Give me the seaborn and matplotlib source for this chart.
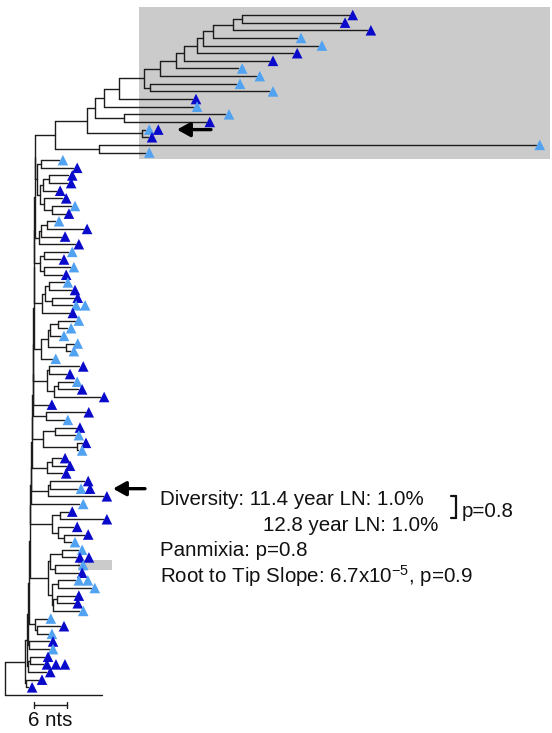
import numpy as np
import pandas as pd
import matplotlib
matplotlib.use("Agg")
import matplotlib.pyplot as plt
from matplotlib.patches import Rectangle
import seaborn as sns

# ---------------- data ----------------
# Tree clades in a Newick-like notation where the number after ':' is the
# node's distance from the root in nucleotides (nts).
# Tip codes: one letter per sampled sequence, L = 11.4 year LN (light), D = 12.8 year LN (dark)
# '*' marks the highlighted sequence, N = outgroup (no marker)
clade_top = ("((((((((((((((D:62.5,D:61.1):43.1,D:65.8):41.5,L:53.1):37.8,L:56.9):36.0,"
             "D:52.4):34.9,D:48.0):32.5,L:42.4):31.1,L:45.6):28.2,(L:42.0,L:48.0):26.4):25.3,"
             "D:34.0):20.7,L:34.2):18.0,(L:40.0,D:36.5):21.6):16.4,(LD:25.5,D:26.0):24.9):14.9,"
             "(L:96.5,L:25.5):17.1):9.1")
clade_ab = "((L:9.8,D:12.4):6.5,(((D:11.5,D:11.3):8.0,D:9.3):6.9,(D:10.4,(L:12.0,D:10.9):8.5):7.1):6.4):5.8"
clade_c = "(((L:9.1,D:14.2):7.6,D:10.2):6.5,D:12.7):6.2"
clade_d = "((L:11.5,D:10.0):7.1,(L:11.8,D:10.4):7.1):6.4"
clade_e = "(((L:10.7,D:12.0):8.0,(D:12.5,LL:12.2):8.5):7.3,D:11.6):6.7"
clade_f = "((((L:12.7,L:11.3):9.6,L:10.0):8.2,(L:12.5,L:11.8):11.1):7.8,L:8.5):6.5"
clade_g = "((D:13.5,D:11.1):8.0,((L:12.4,D:13.3):9.6,D:17.3):8.9):7.6"
clade_h = "D:7.8"
clade_i = "(D:14.5,L:10.7):7.5"
clade_j = "((D:12.9,L:12.7):9.1,(D:14.0,L:13.3):13.1):6.9"
clade_k = "((D:10.2,D:11.1):8.5,D:10.4):7.6"
clade_l = "((D:14.4,LD:13.1):8.2,D:17.8):7.8"
clade_m = "L:13.5"
clade_n = "((D:11.5,D:17.8):10.0,(D:12.4,(D:14.4,L:12.0):10.7):9.6):8.5"
clade_op = ("(((L:13.3,DD:12.9):10.4,(L*:13.5,D:13.3):9.1):8.2,((LL:12.7,L:15.6):9.6,"
            "((D:12.7,D:12.5):9.5,L:13.5):8.7):8.5):7.8")
clade_q = "(L:7.6,(D:10.0,L:7.8):5.8):5.5"
clade_r1 = "(D:8.0,L:8.0):4.4"
clade_r2 = "((D:7.1,DDD:6.9):4.5,D:7.5):4.2"
clade_r3 = "(D:6.0,D:4.2):3.8"

backbone_clades = [clade_top, clade_ab, clade_c, clade_d, clade_e, clade_f, clade_g,
                   clade_h, clade_i, clade_j, clade_k, clade_l, clade_m, clade_n,
                   clade_op, clade_q, clade_r1, clade_r2, clade_r3]
backbone_depths = [5.5, 5.4, 5.3, 5.3, 5.2, 5.1, 5.1, 5.0, 4.9, 4.9, 4.8, 4.7,
                   4.6, 4.5, 4.4, 4.2, 4.0, 3.6]
outgroup_depth = 17.6
scale_bar_nts = 6

stats_lines = ["Diversity: 11.4 year LN: 1.0%", "12.8 year LN: 1.0%",
               "Panmixia: p=0.8", "Root to Tip Slope: 6.7x10$^{-5}$, p=0.9"]
diversity_p = "p=0.8"

group_names = {"L": "11.4 year LN", "D": "12.8 year LN"}
palette = {"11.4 year LN": "#52a2f2", "12.8 year LN": "#0a0acb"}


# ---------------- tree handling ----------------
def parse(s):
    pos = 0

    def node():
        nonlocal pos
        if s[pos] == "(":
            pos += 1
            children = [node()]
            while s[pos] == ",":
                pos += 1
                children.append(node())
            assert s[pos] == ")"
            pos += 1
            label = None
        else:
            start = pos
            while s[pos] != ":":
                pos += 1
            label = s[start:pos]
            children = []
        assert s[pos] == ":"
        pos += 1
        start = pos
        while pos < len(s) and s[pos] not in ",)":
            pos += 1
        return {"label": label, "depth": float(s[start:pos]), "children": children}

    out = node()
    assert pos == len(s)
    return out


cur = parse(backbone_clades[0])
for cl, d in zip(backbone_clades[1:], backbone_depths):
    cur = {"label": None, "depth": d, "children": [cur, parse(cl)]}
root = {"label": None, "depth": 0.0,
        "children": [cur, {"label": "N", "depth": outgroup_depth, "children": []}]}

tips = []


def layout(n, pdepth):
    n["pdepth"] = pdepth
    if not n["children"]:
        n["y"] = float(len(tips))
        tips.append(n)
    else:
        for c in n["children"]:
            layout(c, n["depth"])
        n["y"] = (n["children"][0]["y"] + n["children"][-1]["y"]) / 2


layout(root, None)

segs = []


def collect(n):
    if n["pdepth"] is not None:
        segs.append((n["pdepth"], n["depth"], n["y"], n["y"]))
    if n["children"]:
        segs.append((n["depth"], n["depth"], n["children"][0]["y"], n["children"][-1]["y"]))
        for c in n["children"]:
            collect(c)


collect(root)
rows = []
for i, (x0, x1, y0, y1) in enumerate(segs):
    rows.append({"seg": i, "x": x0, "y": y0})
    rows.append({"seg": i, "x": x1, "y": y1})
seg_df = pd.DataFrame(rows)

# ---------------- figure ----------------
W, H = 552, 733
sns.set_theme(style="white")
plt.rcParams["font.family"] = ["Liberation Sans", "DejaVu Sans"]
plt.rcParams["mathtext.default"] = "regular"

fig = plt.figure(figsize=(W / 100, H / 100), dpi=100)
ax = fig.add_axes([0, 0, 1, 1])
PX_X = 5.5     # pixels per nt
PX_Y = 7.64    # pixels per tip
ax.set_xlim(-5 / PX_X, (W - 5) / PX_X)
ax.set_ylim((H - 15) / PX_Y, -15 / PX_Y)
ax.axis("off")

# highlight box of the upper clade
n_top = 19
ax.add_patch(Rectangle((24.4, -1.05), 99.1 - 24.4, n_top - 1 + 1.9,
                       facecolor="#cbcbcb", edgecolor="none", zorder=0))

sns.lineplot(data=seg_df, x="x", y="y", units="seg", estimator=None, sort=False,
             color="#1c1c1c", lw=1.0, ax=ax, legend=False, zorder=2)

mk = []
off0, step = 4 / PX_X, 9 / PX_X
for t in tips:
    code = t["label"].replace("*", "")
    if "*" in t["label"]:
        ax.add_patch(Rectangle((t["depth"] - 0.2, t["y"] - 0.65), 6.2, 1.3,
                               facecolor="#cbcbcb", edgecolor="none", zorder=1))
    for k, ch in enumerate(code):
        if ch in group_names:
            mk.append({"x": t["depth"] + off0 + k * step, "y": t["y"], "group": group_names[ch]})
mk = pd.DataFrame(mk)
sns.scatterplot(data=mk, x="x", y="y", hue="group", palette=palette, marker="^",
                s=58, linewidth=0, legend=False, ax=ax, zorder=3)
ax.set_xlabel("")
ax.set_ylabel("")

# arrows pointing at selected tips
def arrow(tip, head_px, tail_px):
    y = tips[tip]["y"]
    ax.annotate("", xy=((head_px - 5) / PX_X, y), xytext=((tail_px - 5) / PX_X, y),
                arrowprops=dict(arrowstyle="-|>,head_length=0.65,head_width=0.36",
                                lw=2.4, color="black", shrinkA=0, shrinkB=0,
                                mutation_scale=12), zorder=4)

arrow(15, 177, 211)
arrow(62, 113, 145)

# scale bar
sb_y = tips[-1]["y"] + 1.3
sb_x0 = (34 - 5) / PX_X
ax.plot([sb_x0, sb_x0 + scale_bar_nts], [sb_y, sb_y], color="#1c1c1c", lw=1.0)
for xx in (sb_x0, sb_x0 + scale_bar_nts):
    ax.plot([xx, xx], [sb_y - 0.35, sb_y + 0.35], color="#1c1c1c", lw=1.0)

FS = 14.8


def ft(x, y, s, **kw):
    fig.text(x / W, 1 - y / H, s, fontsize=FS, va="baseline", color="#111111", **kw)


ft(50, 726, f"{scale_bar_nts} nts", ha="center")
ft(160, 505, stats_lines[0])
ft(263, 531, stats_lines[1])
ft(160, 556, stats_lines[2])
ft(160, 583, stats_lines[3])
ft(462, 517, diversity_p)
# bracket
bx, by0, by1 = 456, 496, 518
fig.add_artist(plt.Line2D([bx / W, bx / W], [1 - by0 / H, 1 - by1 / H], color="#111111", lw=1.6))
for yy in (by0, by1):
    fig.add_artist(plt.Line2D([(bx - 5) / W, bx / W], [1 - yy / H, 1 - yy / H], color="#111111", lw=1.6))

fig.savefig("out.png", dpi=100)
